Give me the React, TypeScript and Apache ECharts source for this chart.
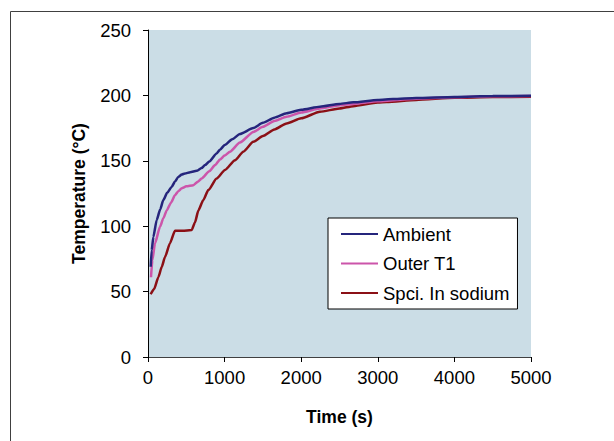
import React, { useEffect, useRef } from "react";
import * as echarts from "echarts";

const seriesNames = ["Ambient", "Outer T1", "Spci. In sodium"];

const ambientTime = [35, 48, 70, 113, 160, 200, 250, 309, 350, 396, 440, 483, 550, 635, 700, 744, 800, 896, 940, 1000, 1100, 1200, 1375, 1500, 1650, 1810, 2000, 2245, 2500, 2680, 3000, 3200, 3500, 4000, 4500, 5000];
const ambientTemp = [69, 81.7, 91.8, 104.6, 113, 120, 125.5, 130, 134, 137.7, 139.5, 140.3, 141.3, 142.3, 144.5, 146.7, 149.5, 155.6, 158.5, 162, 166.5, 170.5, 175, 179, 183, 186.3, 189, 191.3, 193.5, 194.7, 196.5, 197.2, 198, 198.8, 199.5, 199.8];

const outerTime = [39, 57, 91, 157, 200, 244, 300, 352, 400, 440, 500, 592, 650, 700, 800, 875, 940, 1000, 1070, 1200, 1375, 1500, 1650, 1810, 2000, 2245, 2500, 2680, 3000, 3250, 3500, 4000, 4500, 5000];
const outerTemp = [61, 74, 86.8, 99.5, 106, 112, 118, 123.7, 127, 129, 130.5, 131.4, 134, 136.5, 142, 146.7, 151, 154, 157, 164, 172, 176, 180.5, 183.7, 187, 190, 192.5, 193.5, 195.5, 196.5, 197.5, 198.5, 199.3, 199.6];

const sodiumTime = [35, 80, 135, 180, 222, 287, 352, 450, 570, 614, 657, 722, 787, 896, 1005, 1136, 1244, 1375, 1500, 1650, 1810, 2000, 2245, 2500, 2680, 3000, 3117, 3500, 4000, 4500, 5000];
const sodiumTemp = [48, 52, 61, 69, 76.5, 87, 96.5, 96.5, 97, 103, 112, 120, 127.6, 136.5, 143, 150.5, 157, 164.5, 169, 174, 178.6, 182.5, 187.5, 190, 191.8, 194.5, 195, 196.5, 198.2, 198.7, 199];

const yTicks = { min: 0, max: 250, interval: 50 };
const xTicks = { min: 0, max: 5000, interval: 1000 };

const colors = ["#25257c", "#cc55aa", "#8b1016"];

function pairs(t: number[], v: number[]) {
  return t.map((x, i) => [x, v[i]]);
}

export default function App() {
  const ref = useRef<HTMLDivElement>(null);
  useEffect(() => {
    document.body.style.margin = "0";
    const chart = echarts.init(ref.current!, null, { renderer: "svg" });
    const font = "'Liberation Sans', Arial, sans-serif";
    const datasets = [
      pairs(ambientTime, ambientTemp),
      pairs(outerTime, outerTemp),
      pairs(sodiumTime, sodiumTemp),
    ];
    chart.setOption({
      animation: false,
      textStyle: { fontFamily: font },
      graphic: [
        {
          type: "rect",
          shape: { x: 10.5, y: 11.5, width: 700, height: 500 },
          style: { fill: "none", stroke: "#404040", lineWidth: 1 },
          z: -10,
        },
      ],
      grid: {
        left: 148,
        top: 30,
        right: 83,
        bottom: 84,
        show: true,
        backgroundColor: "#cbdde6",
        borderWidth: 0,
      },
      legend: {
        orient: "vertical",
        left: 328,
        top: 218,
        padding: [6, 8, 6, 13],
        itemGap: 9.5,
        itemWidth: 37,
        itemHeight: 2,
        icon: "rect",
        backgroundColor: "#ffffff",
        borderColor: "#000000",
        borderWidth: 1,
        borderRadius: 0,
        textStyle: { fontFamily: font, fontSize: 18.5, color: "#000", lineHeight: 20 },
        data: seriesNames,
      },
      xAxis: {
        type: "value",
        min: xTicks.min,
        max: xTicks.max,
        interval: xTicks.interval,
        name: "Time (s)",
        nameLocation: "middle",
        nameGap: 51,
        nameTextStyle: { fontFamily: font, fontSize: 17.5, fontWeight: "bold", color: "#000" },
        axisLine: { show: true, lineStyle: { color: "#404040", width: 1 } },
        axisTick: { show: true, length: 5, lineStyle: { color: "#000" } },
        axisLabel: {
          fontFamily: font,
          fontSize: 18.5,
          color: "#000",
          margin: 11,
          formatter: (v: number) => String(v),
        },
        splitLine: { show: false },
      },
      yAxis: {
        type: "value",
        min: yTicks.min,
        max: yTicks.max,
        interval: yTicks.interval,
        name: "Temperature (°C)",
        nameLocation: "middle",
        nameGap: 60,
        nameTextStyle: { fontFamily: font, fontSize: 17.5, fontWeight: "bold", color: "#000" },
        axisLine: { show: true, lineStyle: { color: "#000", width: 1 } },
        axisTick: { show: true, length: 5, lineStyle: { color: "#000" } },
        axisLabel: {
          fontFamily: font,
          fontSize: 18.5,
          color: "#000",
          margin: 17,
          formatter: (v: number) => String(v),
        },
        splitLine: { show: false },
      },
      series: seriesNames.map((name, i) => ({
        name,
        type: "line",
        data: datasets[i],
        showSymbol: false,
        symbol: "none",
        smooth: 0.2,
        smoothMonotone: "x",
        lineStyle: { color: colors[i], width: 2.5 },
        itemStyle: { color: colors[i] },
        z: 3 - i,
      })),
    });
    return () => chart.dispose();
  }, []);
  return <div ref={ref} style={{ width: 614, height: 441 }} />;
}
